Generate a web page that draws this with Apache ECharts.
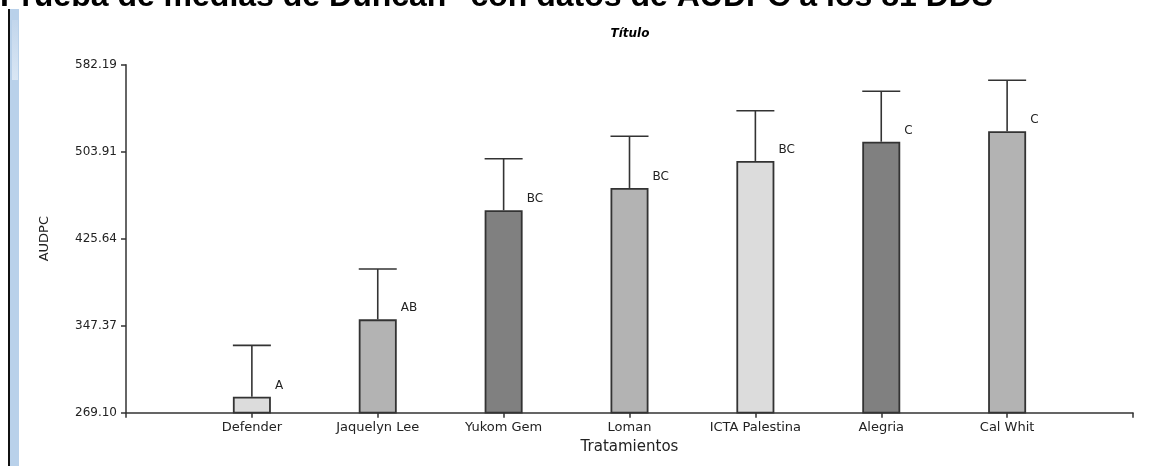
<!DOCTYPE html>
<html>
<head>
<meta charset="utf-8">
<script src="https://cdn.jsdelivr.net/npm/echarts@6/dist/echarts.min.js"></script>
<style>
html,body{margin:0;padding:0;background:#fff;}
#chart{width:1151px;height:466px;}
</style>
</head>
<body>
<div id="chart"></div>
<script>
// ---- data ----
const categories = ['Defender', 'Jaquelyn Lee', 'Yukom Gem', 'Loman', 'ICTA Palestina', 'Alegria', 'Cal Whit'];
const means = [283.5, 353.1, 451.2, 471.3, 495.6, 512.9, 522.3];
const upperErr = [329.7, 398.4, 497.6, 517.8, 540.8, 558.3, 568.2];
const groups = ['A', 'AB', 'BC', 'BC', 'BC', 'C', 'C'];
const yTicks = [269.10, 347.37, 425.64, 503.91, 582.19];
const mainTitle = 'Prueba de medias de Duncan" con datos de AUDPC a los 81 DDS';
const plotTitle = 'Título';
const xName = 'Tratamientos';
const yName = 'AUDPC';

// ---- styling ----
const palette = ['#dcdcdc', '#b3b3b3', '#808080', '#b3b3b3', '#dcdcdc', '#808080', '#b3b3b3'];
const ink = '#222';
const axisCol = '#333';

const xCats = [''].concat(categories, ['']);
const barData = ['-'].concat(means.map((v, i) => ({
  value: v,
  itemStyle: { color: palette[i] },
  label: { formatter: groups[i] }
})), ['-']);
const errData = means.map((v, i) => [i + 1, v, upperErr[i]]);

const chart = echarts.init(document.getElementById('chart'), null, { renderer: 'canvas' });
chart.setOption({
  animation: false,
  backgroundColor: '#fff',
  graphic: [
    { type: 'rect', shape: { x: 8, y: 9, width: 2, height: 460 }, style: { fill: '#111' }, silent: true },
    { type: 'rect', shape: { x: 10, y: 9, width: 9, height: 460 }, style: { fill: '#b9d1ea' }, silent: true },
    { type: 'rect', shape: { x: 12, y: 20, width: 6, height: 60 },
      style: { fill: new echarts.graphic.LinearGradient(0, 0, 0, 1, [
        { offset: 0, color: '#c2d6ec' }, { offset: 1, color: '#d9e6f4' }]) }, silent: true },
    { type: 'text', left: 0, top: -19, silent: true,
      style: { text: mainTitle, fontFamily: 'Liberation Sans, Arial', fontWeight: 'bold', fontSize: 32, fill: '#000' } },
    { type: 'text', x: 630, y: 34, silent: true,
      style: { text: plotTitle, fontFamily: 'DejaVu Sans', fontWeight: 'bold', fontStyle: 'italic', fontSize: 12,
               fill: '#000', align: 'center', verticalAlign: 'middle' } }
  ],
  grid: { left: 126, right: 18, top: 64.7, bottom: 53.3, containLabel: false },
  xAxis: {
    type: 'category',
    data: xCats,
    boundaryGap: false,
    name: xName,
    nameLocation: 'middle',
    nameGap: 27,
    nameTextStyle: { fontFamily: 'DejaVu Sans', fontSize: 15, color: ink },
    axisLine: { lineStyle: { color: axisCol, width: 1.5 } },
    axisTick: { show: true, length: 5, interval: 0, lineStyle: { color: axisCol, width: 1.5 } },
    axisLabel: { interval: 0, margin: 8, fontFamily: 'DejaVu Sans', fontSize: 13, color: ink },
    splitLine: { show: false }
  },
  yAxis: {
    type: 'value',
    min: yTicks[0],
    max: yTicks[yTicks.length - 1],
    name: yName,
    nameLocation: 'middle',
    nameRotate: 90,
    nameGap: 75,
    nameTextStyle: { fontFamily: 'DejaVu Sans', fontSize: 13, color: ink },
    axisLine: { show: true, lineStyle: { color: axisCol, width: 1.5 } },
    axisTick: { show: true, length: 5, customValues: yTicks, lineStyle: { color: axisCol, width: 1.5 } },
    axisLabel: { customValues: yTicks, margin: 9, fontFamily: 'DejaVu Sans', fontSize: 12, color: ink,
                 formatter: v => Number(v).toFixed(2) },
    splitLine: { show: false }
  },
  series: [
    {
      type: 'bar',
      data: barData,
      barWidth: 38,
      itemStyle: { borderColor: '#333', borderWidth: 1.8 },
      label: { show: true, position: [42, -17], fontFamily: 'DejaVu Sans', fontSize: 12, color: ink },
      z: 2
    },
    {
      type: 'custom',
      data: errData,
      encode: { x: 0, y: [1, 2] },
      z: 3,
      renderItem: function (params, api) {
        const x = api.value(0);
        const base = api.coord([x, api.value(1)]);
        const top = api.coord([x, api.value(2)]);
        const hw = 19;
        const st = { stroke: '#333', lineWidth: 1.6 };
        return {
          type: 'group',
          children: [
            { type: 'line', shape: { x1: top[0], y1: top[1], x2: base[0], y2: base[1] }, style: st },
            { type: 'line', shape: { x1: top[0] - hw, y1: top[1], x2: top[0] + hw, y2: top[1] }, style: st }
          ]
        };
      }
    }
  ]
});
</script>
</body>
</html>
